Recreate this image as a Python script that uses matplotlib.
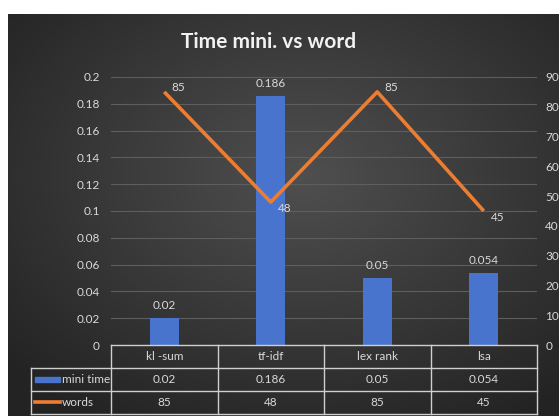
import numpy as np
import matplotlib
matplotlib.use("Agg")
import matplotlib.pyplot as plt
from matplotlib.transforms import blended_transform_factory
from matplotlib.lines import Line2D
from matplotlib.patches import Rectangle

categories = ["kl -sum", "tf-idf", "lex rank", "lsa"]
mini_time = [0.02, 0.186, 0.05, 0.054]
words = [85, 48, 85, 45]
mini_time_labels = ["0.02", "0.186", "0.05", "0.054"]
words_labels = ["85", "48", "85", "45"]
left_ticks = [0, 0.02, 0.04, 0.06, 0.08, 0.1, 0.12, 0.14, 0.16, 0.18, 0.2]
left_tick_labels = ["0", "0.02", "0.04", "0.06", "0.08", "0.1", "0.12", "0.14", "0.16", "0.18", "0.2"]
right_ticks = [0, 10, 20, 30, 40, 50, 60, 70, 80, 90]

W, H = 559, 416
FONT = ["Lato", "DejaVu Sans"]
FS = 8.5
TXT = "#d9d9d9"
BLUE = "#4874CE"
ORANGE = "#ED7D31"

fig = plt.figure(figsize=(W / 100, H / 100), dpi=100)
fig.patch.set_facecolor("white")

# dark gradient background panel
bg = fig.add_axes([8 / W, 0, 1 - 8 / W, (H - 14) / H], zorder=0)
yy, xx = np.mgrid[0:200, 0:300]
cx, cy = 160, 80
r = np.sqrt(((xx - cx) / 300) ** 2 + ((yy - cy) / 200) ** 2)
g = np.clip(0.31 - 0.24 * r, 0.14, 0.31)
img = np.dstack([g, g, g])
bg.imshow(img, aspect="auto", extent=[0, 1, 0, 1], interpolation="bilinear")
bg.set_axis_off()

x0, x1 = 111, 537
yb, yt = 345, 77
ax = fig.add_axes([x0 / W, (H - yb) / H, (x1 - x0) / W, (yb - yt) / H], zorder=2)
ax.patch.set_alpha(0)
x = np.arange(len(categories))
ax.set_xlim(-0.5, len(categories) - 0.5)
ax.set_ylim(0, 0.2)
ax.bar(x, mini_time, width=0.27, color=BLUE, zorder=3)
for xi, v, lab in zip(x, mini_time, mini_time_labels):
    ax.annotate(lab, (xi, v), xytext=(0, 5), textcoords="offset points",
                ha="center", va="bottom", color=TXT, fontsize=FS, family=FONT)
ax.set_yticks(left_ticks)
ax.set_yticklabels(left_tick_labels, family=FONT, fontsize=FS, color=TXT)
ax.tick_params(axis="y", length=0, pad=8)
ax.set_xticks([])
ax.grid(axis="y", color="#5e5e5e", linewidth=0.8, zorder=0)
for s in ax.spines.values():
    s.set_visible(False)

ax2 = ax.twinx()
ax2.set_ylim(0, 90)
ax2.plot(x, words, color=ORANGE, linewidth=2.6, zorder=4, solid_capstyle="butt")
for xi, v, lab in zip(x, words, words_labels):
    if v > 60:
        ax2.annotate(lab, (xi, v), xytext=(5, 3), textcoords="offset points",
                     ha="left", va="center", color=TXT, fontsize=FS, family=FONT)
    else:
        ax2.annotate(lab, (xi, v), xytext=(5, -1), textcoords="offset points",
                     ha="left", va="top", color=TXT, fontsize=FS, family=FONT)
ax2.set_yticks(right_ticks)
ax2.set_yticklabels([str(t) for t in right_ticks], family=FONT, fontsize=FS, color=TXT)
ax2.tick_params(axis="y", length=0, pad=6)
for s in ax2.spines.values():
    s.set_visible(False)

# data table under the axes
tr = blended_transform_factory(ax.transData, fig.transFigure)
trf = fig.transFigure
def fy(p):
    return (H - p) / H
def fx(p):
    return p / W
rows_y = [345, 368, 391, 414]
lc = "#cfcfcf"
for i in range(len(categories) + 1):
    xb = i - 0.5
    fig.add_artist(Line2D([xb, xb], [fy(345), fy(414)], transform=tr, color=lc, lw=1.0, zorder=5))
for ry in rows_y:
    xs_start = fx(x0) if ry == 345 else fx(31)
    fig.add_artist(Line2D([xs_start, fx(x1)], [fy(ry), fy(ry)], transform=trf, color=lc, lw=1.0, zorder=5))
fig.add_artist(Line2D([fx(31), fx(31)], [fy(368), fy(414)], transform=trf, color=lc, lw=1.0, zorder=5))

for xi, c in zip(x, categories):
    fig.text(xi, fy(356.5), c, transform=tr, ha="center", va="center", color=TXT, fontsize=FS, family=FONT)
for xi, lab in zip(x, mini_time_labels):
    fig.text(xi, fy(379.5), lab, transform=tr, ha="center", va="center", color=TXT, fontsize=FS, family=FONT)
for xi, lab in zip(x, words_labels):
    fig.text(xi, fy(402.5), lab, transform=tr, ha="center", va="center", color=TXT, fontsize=FS, family=FONT)

# legend keys in table
fig.add_artist(Rectangle((fx(35), fy(382)), fx(60) - fx(35), 5 / H, transform=trf, color=BLUE, zorder=6))
fig.add_artist(Line2D([fx(35), fx(60)], [fy(402), fy(402)], transform=trf, color=ORANGE, lw=2.6, zorder=6))
fig.text(fx(62), fy(379.5), "mini time", ha="left", va="center", color=TXT, fontsize=FS, family=FONT)
fig.text(fx(62), fy(402.5), "words", ha="left", va="center", color=TXT, fontsize=FS, family=FONT)

fig.text(fx(269), fy(42), "Time mini. vs word", ha="center", va="center", color="#f2f2f2",
         fontsize=15, fontweight="bold", family=FONT)

fig.savefig("out.png", dpi=100, facecolor=fig.get_facecolor())
